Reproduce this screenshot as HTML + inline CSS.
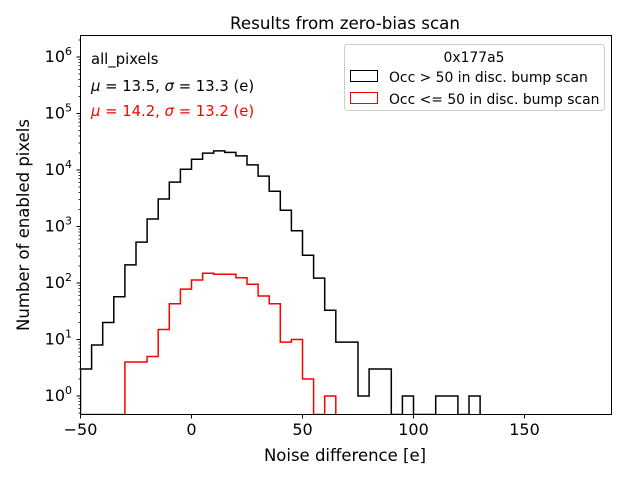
<!DOCTYPE html>
<html><head><meta charset="utf-8"><style>
body{margin:0;background:#fff}
svg{display:block;font-family:"DejaVu Sans","Liberation Sans",sans-serif}
</style></head><body>
<svg id="chart" width="640" height="480">
<text x="345" y="29" font-size="16.7" text-anchor="middle">Results from zero-bias scan</text>
<g id="plot"></g>
<rect x="80.5" y="35.5" width="531" height="379" fill="none" stroke="#000" stroke-width="1"/>
<text x="345" y="461" font-size="16.5" text-anchor="middle">Noise difference [e]</text>
<text transform="translate(29,225) rotate(-90)" font-size="16.5" text-anchor="middle">Number of enabled pixels</text>
<text x="91" y="64" font-size="14.8">all_pixels</text>
<text x="91" y="91" font-size="14.8"><tspan font-style="italic">μ</tspan> = 13.5, <tspan font-style="italic">σ</tspan> = 13.3 (e)</text>
<text x="91" y="116" font-size="14.8" fill="#ff0000"><tspan font-style="italic">μ</tspan> = 14.2, <tspan font-style="italic">σ</tspan> = 13.2 (e)</text>
<g>
<rect x="344.5" y="44.5" width="260" height="66" rx="3" fill="#fff" stroke="#ccc"/>
<text x="474" y="62" font-size="13.9" text-anchor="middle">0x177a5</text>
<rect x="350.5" y="70.5" width="27" height="11" fill="none" stroke="#000"/>
<text x="389" y="82" font-size="13.9">Occ &gt; 50 in disc. bump scan</text>
<rect x="350.5" y="92.5" width="27" height="11" fill="none" stroke="#ff0000"/>
<text x="389" y="104" font-size="13.9">Occ &lt;= 50 in disc. bump scan</text>
</g>
</svg>
<script>
const binStart = -50, binWidth = 5;
const blackCounts = [3,8,20,57,209,530,1360,3070,6100,10300,15500,19900,21800,20500,17800,12300,7800,4200,1940,840,310,122,33,9,9,1,3,3,0,1,0,0,1,1,0,1];
const redCounts = [0,0,0,0,4,4,5,15,43,78,113,149,143,143,124,95,59,43,9,10,2,0,1];
const xTicks = [-50,0,50,100,150];
const yTickExps = [0,1,2,3,4,5,6];
const X0 = 191.5, XS = 2.22, Y0 = 396, YD = 56.5, YB = 414.5;
const xs = v => X0 + v*XS;
const ys = v => v > 0 ? Y0 - Math.log10(v)*YD : YB;
const NS = 'http://www.w3.org/2000/svg';
const plot = document.getElementById('plot');
const chart = document.getElementById('chart');
function mk(tag, attrs, parent){const e=document.createElementNS(NS,tag);for(const k in attrs)e.setAttribute(k,attrs[k]);(parent||plot).appendChild(e);return e;}
function stepPath(counts){
  let d='';let prev=null;
  counts.forEach((c,i)=>{
    const x0=xs(binStart+i*binWidth), x1=xs(binStart+(i+1)*binWidth), y=ys(c);
    if(prev===null){d+=`M${x0},${YB} L${x0},${y} `;} else {d+=`L${x0},${y} `;}
    d+=`L${x1},${y} `; prev=y;
  });
  const xe=xs(binStart+counts.length*binWidth);
  d+=`L${xe},${YB}`;
  return d;
}
const clip = mk('clipPath',{id:'pc'}); mk('rect',{x:80.5,y:35.5,width:531,height:379},clip);
const pb = mk('path',{d:stepPath(blackCounts),fill:'none',stroke:'#000','stroke-width':1.5,'clip-path':'url(#pc)'});


const pr = mk('path',{d:stepPath(redCounts),fill:'none',stroke:'#ff0000','stroke-width':1.5,'clip-path':'url(#pc)'});


xTicks.forEach(t=>{
  const x=xs(t);
  const l=mk('line',{x1:x,x2:x,y1:414.5,y2:418.5,stroke:'#000'},chart);
  
  
  const tx=mk('text',{x:x,y:435,'font-size':16,'text-anchor':'middle'},chart);
  tx.textContent = t<0 ? '\u2212'+Math.abs(t) : String(t);
  
  
});
yTickExps.forEach(e=>{
  const y=Y0 - e*YD;
  const l=mk('line',{x1:76.5,x2:80.5,y1:y,y2:y,stroke:'#000'},chart);
  
  
  const tx=mk('text',{x:72,y:y+5,'font-size':16,'text-anchor':'end'},chart);
  tx.innerHTML='10<tspan dy="-7" font-size="11">'+e+'</tspan>';
  
  
  for(let m=2;m<10;m++){
    const ym=Y0-(e-1+Math.log10(m))*YD;
    if(ym<=414 && ym>=36){
      const ml=mk('line',{x1:78.5,x2:80.5,y1:ym,y2:ym,stroke:'#000','stroke-width':0.8},chart);
      
      
    }
  }
  if(e===6){for(let m=2;m<10;m++){const ym=Y0-(6+Math.log10(m))*YD;if(ym>=36){const ml=mk('line',{x1:78.5,x2:80.5,y1:ym,y2:ym,stroke:'#000','stroke-width':0.8},chart);}}}
});
</script>
</body></html>
